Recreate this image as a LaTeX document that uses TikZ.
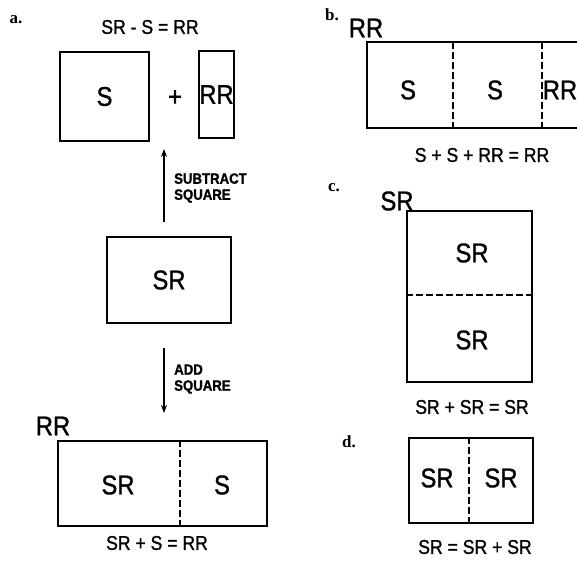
\documentclass[tikz,border=0pt]{standalone}
\usepackage{fontspec}
\usetikzlibrary{arrows.meta}
\setmainfont{Liberation Sans}
\newfontfamily\condfont[FakeStretch=0.88,FakeBold=1.2]{Liberation Sans}
\newfontfamily\tagfont{Liberation Serif}
\tikzset{
  box/.style={draw,line width=1.8pt,inner sep=0pt},
  split/.style={dash pattern=on 7pt off 3pt,line width=1.6pt},
  big/.style={font=\condfont\fontsize{27}{27}\selectfont,inner sep=0pt},
  eqn/.style={font=\condfont\fontsize{20}{20}\selectfont,inner sep=0pt},
  steplabel/.style={font=\condfont\bfseries\fontsize{15}{16}\selectfont,align=left,anchor=west,inner sep=0pt},
  tag/.style={font=\tagfont\bfseries\fontsize{17}{17}\selectfont,inner sep=0pt},
}
\begin{document}
\begin{tikzpicture}[x=1pt,y=-1pt,>={Stealth[length=8pt,width=6pt]}]
\useasboundingbox (0,0) rectangle (577,560);
% a.
\node[tag] (taga) at (16,20) {a.};
\node[eqn] (eqa) at (150,27) {SR - S = RR};
\node[box,minimum width=89pt,minimum height=89pt] (sq) at (104.5,96.5) {};
\node[big] at (sq) {S};
\node[big] (plus) at (175,98) {+};
\node[box,minimum width=35pt,minimum height=87pt] (rrbox) at (216.5,94.5) {};
\node[big] at (rrbox) {RR};
\node[box,minimum width=124pt,minimum height=86pt] (srbox) at (169,280) {};
\node[big] at (srbox) {SR};
\coordinate (uptail) at (164,222);
\coordinate (uptip) at (164,149);
\draw[line width=1.5pt,->] (uptail) -- (uptip);
\node[steplabel] (sub) at (174,188) {SUBTRACT\\SQUARE};
\coordinate (dntail) at (164,348);
\coordinate (dntip) at (164,413);
\draw[line width=1.5pt,->] (dntail) -- (dntip);
\node[steplabel] (add) at (174,379) {ADD\\SQUARE};
\node[big] (rrtop) at (53,426) {RR};
\node[box,minimum width=209pt,minimum height=85pt] (bot) at (162.5,483.5) {};
\draw[split] ([xshift=123pt]bot.north west) -- ([xshift=123pt]bot.south west);
\node[big] at (118,485) {SR};
\node[big] at (222,485) {S};
\node[eqn] (eqbot) at (157,543) {SR + S = RR};
% b.
\node[tag] (tagb) at (332,15) {b.};
\node[big] (rrb) at (366,28) {RR};
\draw[line width=1.8pt] (580,42) -- (367,42) -- (367,128) -- (580,128);
\draw[split] (453,42) -- (453,128);
\draw[split] (542,42) -- (542,128);
\node[big] at (408,90) {S};
\node[big] at (495,90) {S};
\node[big] at (560,90) {RR};
\node[eqn] (eqb) at (482,155) {S + S + RR = RR};
% c.
\node[tag] (tagc) at (334,188) {c.};
\node[big] (src) at (397,201) {SR};
\node[box,minimum width=125pt,minimum height=171pt] (cbox) at (469.5,296.5) {};
\draw[split] ([yshift=-85pt]cbox.north west) -- ([yshift=-85pt]cbox.north east);
\node[big] at (472,253) {SR};
\node[big] at (472,340) {SR};
\node[eqn] (eqc) at (472,407) {SR + SR = SR};
% d.
\node[tag] (tagd) at (349,442) {d.};
\node[box,minimum width=124pt,minimum height=85pt] (dbox) at (471,480.5) {};
\draw[split] ([xshift=61pt]dbox.north west) -- ([xshift=61pt]dbox.south west);
\node[big] at (437,478) {SR};
\node[big] at (501,478) {SR};
\node[eqn] (eqd) at (475,547) {SR = SR + SR};
\end{tikzpicture}
\end{document}
